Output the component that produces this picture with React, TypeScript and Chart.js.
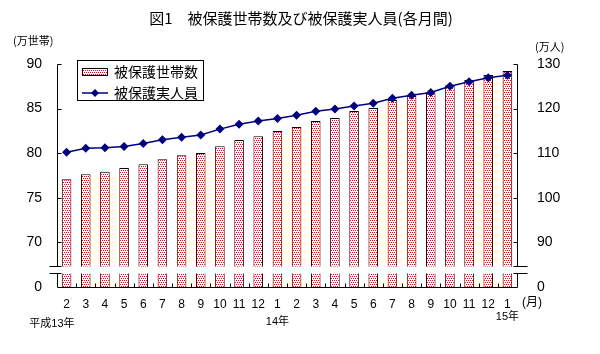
import React, { useEffect, useRef } from "react";
import { Chart, registerables } from "chart.js";
Chart.register(...registerables);

const months = ["2","3","4","5","6","7","8","9","10","11","12","1","2","3","4","5","6","7","8","9","10","11","12","1"];
const households = [77.09,77.65,77.91,78.35,78.77,79.33,79.78,80.03,80.78,81.49,81.9,82.5,82.95,83.62,83.95,84.74,85.07,85.97,86.42,86.72,87.61,88.21,88.77,89.22];
const persons = [110.2,111.1,111.2,111.5,112.2,113.0,113.6,114.1,115.4,116.5,117.2,117.8,118.5,119.4,119.9,120.6,121.2,122.3,123.0,123.6,125.0,126.0,126.9,127.5];
const leftTickValues = [65,70,75,80,85,90];
const leftTickLabels = ["0","70","75","80","85","90"];
const rightTickValues = [80,90,100,110,120,130];
const rightTickLabels = ["0","90","100","110","120","130"];
const yearLabels = [
  { index: 0, text: "平成13年" },
  { index: 11, text: "14年" },
  { index: 23, text: "15年" },
];
const seriesNames = ["被保護世帯数","被保護実人員"];
const titleText = "図1　被保護世帯数及び被保護実人員(各月間)";
const leftUnit = "(万世帯)";
const rightUnit = "(万人)";
const monthUnit = "(月)";
const breakRange = [66.55, 67.4];

const FONT = '"Liberation Sans", "Noto Sans CJK JP", sans-serif';
const JFONT = '"Noto Sans CJK JP", sans-serif';
const NAVY = "#000080";

export default function App() {
  const ref = useRef<HTMLCanvasElement>(null);
  useEffect(() => {
    const canvas = ref.current!;
    const pc = document.createElement("canvas");
    pc.width = 2; pc.height = 4;
    const pctx = pc.getContext("2d")!;
    pctx.fillStyle = "#fff"; pctx.fillRect(0, 0, 2, 4);
    pctx.fillStyle = "#ff0000"; pctx.fillRect(0, 0, 1, 1); pctx.fillRect(1, 2, 1, 1);
    const pattern = canvas.getContext("2d")!.createPattern(pc, "repeat")!;

    const decor = {
      id: "decor",
      afterDatasetsDraw(chart: any) {
        const { ctx, chartArea: ca, scales } = chart;
        const y = scales.y;
        const yTop = Math.round(y.getPixelForValue(breakRange[1])) + 0.5;
        const yBot = Math.round(y.getPixelForValue(breakRange[0])) + 0.5;
        ctx.save();
        ctx.fillStyle = "#fff";
        ctx.fillRect(ca.left - 10, yTop, ca.right - ca.left + 20, yBot - yTop);
        ctx.restore();
      },
      afterDraw(chart: any) {
        const { ctx, chartArea: ca, scales } = chart;
        const x = scales.x, y = scales.y, y1 = scales.y1;
        const L = Math.round(ca.left) + 0.5, R = Math.round(ca.right) + 0.5;
        const T = Math.round(ca.top) + 0.5, B = Math.round(ca.bottom) + 0.5;
        const yTop = Math.round(y.getPixelForValue(breakRange[1])) + 0.5;
        const yBot = Math.round(y.getPixelForValue(breakRange[0])) + 0.5;
        ctx.save();
        ctx.strokeStyle = "#000";
        ctx.lineWidth = 1;
        ctx.beginPath();
        ctx.moveTo(L, T); ctx.lineTo(L, yTop);
        ctx.moveTo(L, yBot); ctx.lineTo(L, B);
        ctx.moveTo(R, T); ctx.lineTo(R, yTop);
        ctx.moveTo(R, yBot); ctx.lineTo(R, B);
        ctx.moveTo(L, B); ctx.lineTo(R, B);
        ctx.moveTo(L - 8, yTop); ctx.lineTo(L + 4, yTop);
        ctx.moveTo(L - 8, yBot); ctx.lineTo(L + 4, yBot);
        ctx.moveTo(R - 4, yTop); ctx.lineTo(R + 10, yTop);
        ctx.moveTo(R - 4, yBot); ctx.lineTo(R + 10, yBot);
        leftTickValues.slice(1).forEach((v) => {
          const p = Math.round(y.getPixelForValue(v)) + 0.5;
          ctx.moveTo(L, p); ctx.lineTo(L + 4, p);
        });
        rightTickValues.slice(1).forEach((v) => {
          const p = Math.round(y1.getPixelForValue(v)) + 0.5;
          ctx.moveTo(R, p); ctx.lineTo(R - 4, p);
        });
        for (let i = 1; i < months.length; i++) {
          const p = Math.round((x.getPixelForValue(i - 1) + x.getPixelForValue(i)) / 2) + 0.5;
          ctx.moveTo(p, B); ctx.lineTo(p, B - 4);
        }
        ctx.stroke();

        ctx.fillStyle = "#000";
        ctx.textBaseline = "middle";
        ctx.textAlign = "center";
        ctx.font = `15px ${JFONT}`;
        ctx.fillText(titleText, 301, 18);
        ctx.font = `11px ${JFONT}`;
        ctx.textAlign = "left";
        ctx.fillText(leftUnit, 13, 41);
        ctx.fillText(rightUnit, 535, 47);
        ctx.font = `12px ${FONT}`;
        ctx.fillText(monthUnit, 522, 303);
        ctx.font = `11px ${FONT}`;
        yearLabels.forEach((yl, k) => {
          const px = x.getPixelForValue(yl.index);
          if (k === 0) { ctx.textAlign = "right"; ctx.fillText(yl.text, px + 8, 324); }
          else { ctx.textAlign = "center"; ctx.fillText(yl.text, px, k === 1 ? 322 : 317); }
        });

        const bx = 77.5, by = 60.5, bw = 126, bh = 40;
        ctx.fillStyle = "#fff";
        ctx.fillRect(bx, by, bw, bh);
        ctx.strokeStyle = "#000";
        ctx.lineWidth = 1;
        ctx.strokeRect(bx, by, bw, bh);
        ctx.fillStyle = pattern;
        ctx.fillRect(82, 68, 26, 8);
        ctx.strokeRect(82.5, 68.5, 25, 7);
        ctx.strokeStyle = NAVY;
        ctx.lineWidth = 1.5;
        ctx.beginPath();
        ctx.moveTo(82, 93); ctx.lineTo(108, 93);
        ctx.stroke();
        ctx.fillStyle = NAVY;
        ctx.beginPath();
        ctx.moveTo(95 - 4, 93); ctx.lineTo(95, 89); ctx.lineTo(95 + 4, 93); ctx.lineTo(95, 97);
        ctx.closePath(); ctx.fill();
        ctx.fillStyle = "#000";
        ctx.textAlign = "left";
        ctx.font = `14px ${JFONT}`;
        ctx.fillText(seriesNames[0], 114, 72);
        ctx.fillText(seriesNames[1], 114, 93);
        ctx.restore();
      },
    };

    const chart = new Chart(canvas, {
      type: "bar",
      data: {
        labels: months,
        datasets: [
          {
            type: "line",
            label: seriesNames[1],
            data: persons,
            yAxisID: "y1",
            borderColor: NAVY,
            backgroundColor: NAVY,
            borderWidth: 1.5,
            pointStyle: "rectRot",
            pointRadius: 4.5,
            pointBorderWidth: 0,
            tension: 0,
            order: 0,
          } as any,
          {
            type: "bar",
            label: seriesNames[0],
            data: households,
            yAxisID: "y",
            backgroundColor: pattern as any,
            borderColor: "#000",
            borderWidth: 1,
            categoryPercentage: 1,
            barPercentage: 0.5,
            order: 1,
          },
        ],
      },
      options: {
        responsive: false,
        devicePixelRatio: 1,
        animation: false,
        layout: { padding: { top: 64, left: 0, right: 0, bottom: 0 } },
        plugins: { legend: { display: false }, title: { display: false }, tooltip: { enabled: false } },
        scales: {
          x: {
            type: "category",
            offset: true,
            grid: { display: false, drawTicks: false },
            border: { display: false },
            ticks: { color: "#000", font: { size: 12, family: FONT }, padding: 10, maxRotation: 0, autoSkip: false },
            afterFit: (s: any) => { s.height = 67; },
          },
          y: {
            type: "linear",
            position: "left",
            min: 65,
            max: 90,
            grid: { display: false, drawTicks: false },
            border: { display: false },
            afterBuildTicks: (s: any) => { s.ticks = leftTickValues.map((v) => ({ value: v })); },
            ticks: {
              color: "#000",
              font: { size: 14, family: FONT },
              padding: 15,
              callback: (v: any) => leftTickLabels[leftTickValues.indexOf(Number(v))],
            },
            afterFit: (s: any) => { s.width = 57; },
          },
          y1: {
            type: "linear",
            position: "right",
            min: 80,
            max: 130,
            grid: { display: false, drawTicks: false },
            border: { display: false },
            afterBuildTicks: (s: any) => { s.ticks = rightTickValues.map((v) => ({ value: v })); },
            ticks: {
              color: "#000",
              font: { size: 14, family: FONT },
              padding: 20,
              callback: (v: any) => rightTickLabels[rightTickValues.indexOf(Number(v))],
            },
            afterFit: (s: any) => { s.width = 83; },
          },
        },
      },
      plugins: [decor],
    });
    return () => chart.destroy();
  }, []);
  return (
    <div style={{ position: "fixed", left: 0, top: 0, width: 600, height: 354, background: "#fff" }}>
      <canvas ref={ref} width={600} height={354} style={{ width: 600, height: 354, display: "block" }} />
    </div>
  );
}
